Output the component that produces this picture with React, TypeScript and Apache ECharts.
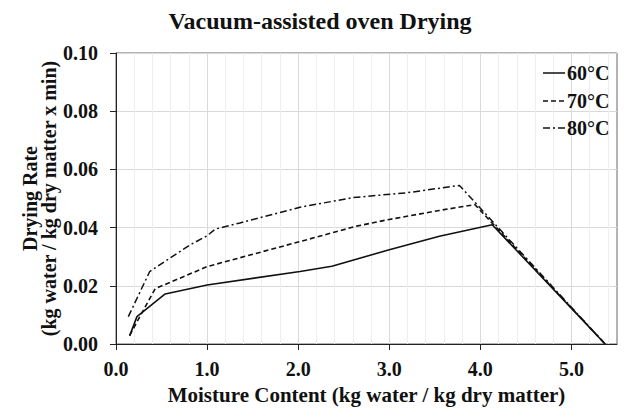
import React, { useEffect, useRef } from "react";
import * as echarts from "echarts";

const title = "Vacuum-assisted oven Drying";
const xAxisName = "Moisture Content (kg water / kg dry matter)";
const yAxisName = "Drying Rate\n(kg water / kg dry matter x min)";
const seriesNames = ["60°C", "70°C", "80°C"];
const xTickValues = [0, 1, 2, 3, 4, 5];

const moisture60 = [0.15, 0.23, 0.54, 1.0, 2.02, 2.37, 3.0, 3.55, 4.13, 5.37];
const rate60 = [0.0028, 0.0094, 0.0172, 0.0203, 0.0249, 0.0267, 0.0324, 0.037, 0.041, 0.0];

const moisture70 = [0.15, 0.43, 1.0, 2.02, 2.64, 3.0, 3.55, 3.94, 5.37];
const rate70 = [0.003, 0.019, 0.0266, 0.0352, 0.0405, 0.0428, 0.0459, 0.0479, 0.0];

const moisture80 = [0.135, 0.37, 0.81, 1.0, 1.09, 1.36, 2.02, 2.6, 3.2, 3.77, 5.37];
const rate80 = [0.0094, 0.0249, 0.034, 0.0372, 0.0395, 0.0416, 0.047, 0.0503, 0.052, 0.0545, 0.0];

const zip = (xs: number[], ys: number[]) => xs.map((x, i) => [x, ys[i]]);

const FONT = "'Liberation Serif', 'Times New Roman', serif";
const INK = "#111";
const dashes: Record<string, any> = {
  "60°C": "solid",
  "70°C": [5, 3],
  "80°C": [7, 3, 2, 3],
};

export default function App() {
  const ref = useRef<HTMLDivElement>(null);
  useEffect(() => {
    if (!ref.current) return;
    const chart = echarts.init(ref.current, undefined, { renderer: "svg" });
    const lineBase = { type: "line", symbol: "none", showSymbol: false, smooth: false, z: 3 };

    const legendX = 543;
    const legendY = [73, 101, 128];
    const legendGraphics: any[] = [];
    seriesNames.forEach((name, i) => {
      const d = dashes[name];
      legendGraphics.push({
        type: "line",
        shape: { x1: legendX, y1: legendY[i], x2: legendX + 22, y2: legendY[i] },
        style: { stroke: INK, lineWidth: 1.5, lineDash: d === "solid" ? null : d },
        z: 10,
      });
      legendGraphics.push({
        type: "text",
        x: legendX + 24,
        y: legendY[i],
        style: {
          text: name,
          fontFamily: FONT,
          fontSize: 20,
          fontWeight: "bold",
          fill: INK,
          verticalAlign: "middle",
          align: "left",
        },
        z: 10,
      });
    });

    chart.setOption({
      animation: false,
      backgroundColor: "#ffffff",
      textStyle: { fontFamily: FONT, color: "#000" },
      title: {
        text: title,
        left: "center",
        top: 9,
        padding: 0,
        textStyle: { fontFamily: FONT, fontSize: 24, fontWeight: "bold", color: INK },
      },
      grid: {
        left: 116,
        right: 23,
        top: 53,
        bottom: 74,
        show: true,
        borderColor: "#666",
        borderWidth: 1,
      },
      graphic: legendGraphics,
      xAxis: {
        type: "value",
        min: 0,
        max: 5.5,
        interval: 1,
        name: xAxisName,
        nameLocation: "middle",
        nameGap: 40,
        nameMoveOverlap: false,
        nameTextStyle: { fontFamily: FONT, fontSize: 21, fontWeight: "bold", color: INK },
        axisLine: { show: true, onZero: false, lineStyle: { color: "#222", width: 1 } },
        axisTick: { show: true, length: 6, customValues: xTickValues, lineStyle: { color: "#222" } },
        axisLabel: {
          margin: 15,
          customValues: xTickValues,
          fontFamily: FONT,
          fontSize: 20,
          fontWeight: "bold",
          color: INK,
          formatter: (v: number) => v.toFixed(1),
        },
        splitLine: { show: true, lineStyle: { color: "#d9d9d9", width: 1 } },
        minorTick: { show: false, splitNumber: 5 },
        minorSplitLine: { show: true, lineStyle: { color: "#eeeeee", width: 1 } },
      },
      yAxis: {
        type: "value",
        min: 0,
        max: 0.1,
        interval: 0.02,
        name: yAxisName,
        nameLocation: "middle",
        nameGap: 58,
        nameMoveOverlap: false,
        nameTextStyle: { fontFamily: FONT, fontSize: 20, fontWeight: "bold", color: INK, lineHeight: 19 },
        axisLine: { show: true, lineStyle: { color: "#222", width: 1 } },
        axisTick: { show: true, length: 6, lineStyle: { color: "#222" } },
        axisLabel: {
          margin: 18,
          fontFamily: FONT,
          fontSize: 20,
          fontWeight: "bold",
          color: INK,
          formatter: (v: number) => v.toFixed(2),
        },
        splitLine: { show: true, lineStyle: { color: "#d9d9d9", width: 1 } },
      },
      series: [
        {
          ...lineBase,
          name: seriesNames[2],
          data: zip(moisture80, rate80),
          lineStyle: { color: INK, width: 1.5, type: dashes["80°C"] },
          itemStyle: { color: INK },
        },
        {
          ...lineBase,
          name: seriesNames[1],
          data: zip(moisture70, rate70),
          lineStyle: { color: INK, width: 1.6, type: dashes["70°C"] },
          itemStyle: { color: INK },
        },
        {
          ...lineBase,
          name: seriesNames[0],
          data: zip(moisture60, rate60),
          lineStyle: { color: INK, width: 1.6, type: "solid" },
          itemStyle: { color: INK },
          z: 4,
        },
      ],
    });
    return () => chart.dispose();
  }, []);
  return (
    <div
      ref={ref}
      style={{ position: "fixed", left: 0, top: 0, width: 640, height: 418 }}
    />
  );
}
